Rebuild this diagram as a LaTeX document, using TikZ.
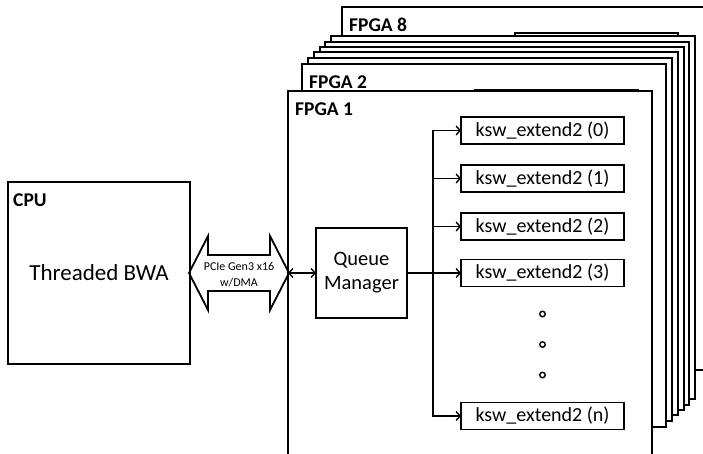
\documentclass[tikz,border=0pt]{standalone}
\usepackage{fontspec}
\setmainfont{Carlito}
\usetikzlibrary{arrows.meta}
\begin{document}
\begin{tikzpicture}[x=1pt,y=-1pt,
  fpgabox/.style={draw, line width=1.8pt, fill=white, minimum width=364pt, minimum height=363pt, inner sep=0pt, outer sep=0pt, anchor=north west},
  lbl/.style={font=\fontsize{19.5}{23}\selectfont\bfseries, inner sep=0pt, anchor=base west},
  kbox/.style={draw, line width=1.8pt, fill=white, minimum width=163pt, minimum height=27pt, inner sep=0pt, outer sep=0pt, font=\fontsize{20}{24}\selectfont},
  blk/.style={draw, line width=1.8pt, fill=white, inner sep=0pt, outer sep=0pt, align=center},
  conn/.style={line width=1.4pt},
  tip/.style={-{Straight Barb[length=4pt,width=9pt]}},
  dotc/.style={draw, circle, line width=1.4pt, minimum size=5.5pt, inner sep=0pt}
]
\useasboundingbox (0,0) rectangle (703,453);
\clip (0,0) rectangle (703,453);

% stacked FPGA boards (back to front)
\node[fpgabox] (f8) at (342,7) {};
\node[lbl] (f8l) at ([shift={(7,24)}]f8.north west) {FPGA 8};
\node[kbox, anchor=north west] (f8k) at ([shift={(173,26)}]f8.north west) {};
\node[fpgabox] (f7) at (331,36) {};
\node[fpgabox] (f6) at (325,42) {};
\node[fpgabox] (f5) at (320,47) {};
\node[fpgabox] (f4) at (314,52) {};
\node[fpgabox] (f3) at (308,58) {};
\node[fpgabox] (f2) at (302,64) {};
\node[lbl] (f2l) at ([shift={(7,24)}]f2.north west) {FPGA 2};
\node[kbox, anchor=north west] (f2k) at ([shift={(173,26)}]f2.north west) {};
\node[fpgabox, minimum height=390pt] (f1) at (288,91) {};
\node[lbl] (f1l) at ([shift={(7,24)}]f1.north west) {FPGA 1};

% CPU
\node[blk, anchor=north west, minimum width=182pt, minimum height=182pt] (cpu) at (8,182) {};
\node[lbl] (cpul) at (13,206) {CPU};
\node[font=\fontsize{23}{27}\selectfont, inner sep=0pt] (bwa) at (cpu.center) {Threaded BWA};

% PCIe double arrow
\coordinate (pl) at (189,273);
\coordinate (pr) at (289,273);
\draw[line width=1.8pt, line join=miter] (pl) -- (208,236) -- (208,255) -- (270,255) -- (270,236) -- (pr)
  -- (270,310) -- (270,291) -- (208,291) -- (208,310) -- cycle;
\node[font=\fontsize{12}{16}\selectfont, align=center, inner sep=0pt] (pcie) at (239,275) {PCIe Gen3 x16\\w/DMA};

% Queue manager
\node[blk, minimum width=91pt, minimum height=90pt, font=\fontsize{20.5}{24}\selectfont] (qm) at (361.5,273) {Queue\\Manager};
\coordinate (fin) at (288,273);
\draw[conn, {Straight Barb[length=4pt,width=9pt]}-{Straight Barb[length=4pt,width=9pt]}] (fin) -- (qm.west);

% kernels
\node[kbox] (k0) at (542.5,130.5) {ksw\_extend2 (0)};
\node[kbox] (k1) at (542.5,178.5) {ksw\_extend2 (1)};
\node[kbox] (k2) at (542.5,226.5) {ksw\_extend2 (2)};
\node[kbox] (k3) at (542.5,273) {ksw\_extend2 (3)};
\node[kbox] (kn) at (542.5,416) {ksw\_extend2 (n)};
\node[dotc] (d1) at (542.5,314) {};
\node[dotc] (d2) at (542.5,344.5) {};
\node[dotc] (d3) at (542.5,375) {};

\coordinate (bus) at (433,273);
\draw[conn, tip] (k0.west -| bus) |- (kn.west);
\draw[conn, tip] (kn.west -| bus) |- (k0.west);
\draw[conn, tip] (k1.west -| bus) -- (k1.west);
\draw[conn, tip] (k2.west -| bus) -- (k2.west);
\draw[conn, tip] (qm.east) -- (k3.west);
\end{tikzpicture}
\end{document}
